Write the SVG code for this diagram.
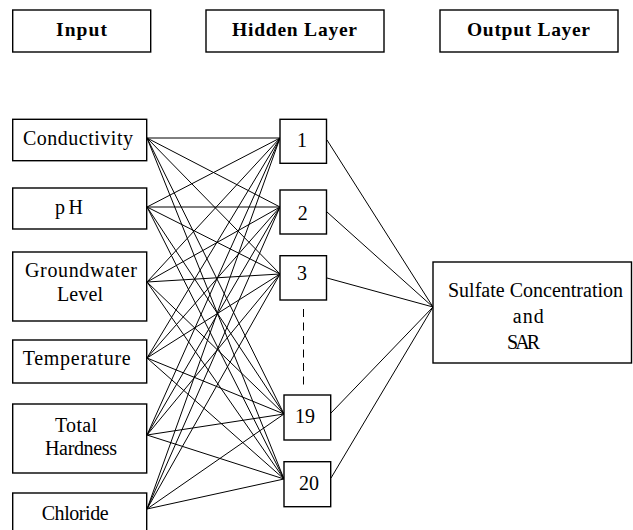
<svg xmlns="http://www.w3.org/2000/svg" width="633" height="530" viewBox="0 0 633 530">
<style>
  .box { fill: #ffffff; stroke: #000000; stroke-width: 1.4; }
  .lbl { font-family: 'Liberation Serif', 'DejaVu Serif', 'Noto Serif', serif; font-size: 20px; fill: #000000; }
  .hdr { font-family: 'Liberation Serif', 'DejaVu Serif', 'Noto Serif', serif; font-size: 19.5px; font-weight: bold; fill: #000000; }
  .num { font-family: 'Liberation Serif', 'DejaVu Serif', 'Noto Serif', serif; font-size: 20px; fill: #000000; text-anchor: middle; }
  .conn line { stroke: #000000; stroke-width: 1; }
</style>
<rect width="633" height="530" fill="#ffffff"/>

<g id="connectors" class="conn">
  <line x1="147" y1="138" x2="280" y2="138"/>
  <line x1="147" y1="138" x2="280" y2="207"/>
  <line x1="147" y1="138" x2="280" y2="274"/>
  <line x1="147" y1="138" x2="284" y2="414"/>
  <line x1="147" y1="138" x2="284" y2="479"/>
  <line x1="147" y1="207" x2="280" y2="138"/>
  <line x1="147" y1="207" x2="280" y2="207"/>
  <line x1="147" y1="207" x2="280" y2="274"/>
  <line x1="147" y1="207" x2="284" y2="414"/>
  <line x1="147" y1="207" x2="284" y2="479"/>
  <line x1="147" y1="282" x2="280" y2="138"/>
  <line x1="147" y1="282" x2="280" y2="207"/>
  <line x1="147" y1="282" x2="280" y2="274"/>
  <line x1="147" y1="282" x2="284" y2="414"/>
  <line x1="147" y1="282" x2="284" y2="479"/>
  <line x1="147" y1="358" x2="280" y2="138"/>
  <line x1="147" y1="358" x2="280" y2="207"/>
  <line x1="147" y1="358" x2="280" y2="274"/>
  <line x1="147" y1="358" x2="284" y2="414"/>
  <line x1="147" y1="358" x2="284" y2="479"/>
  <line x1="147" y1="435" x2="280" y2="138"/>
  <line x1="147" y1="435" x2="280" y2="207"/>
  <line x1="147" y1="435" x2="280" y2="274"/>
  <line x1="147" y1="435" x2="284" y2="414"/>
  <line x1="147" y1="435" x2="284" y2="479"/>
  <line x1="147" y1="509" x2="280" y2="138"/>
  <line x1="147" y1="509" x2="280" y2="207"/>
  <line x1="147" y1="509" x2="280" y2="274"/>
  <line x1="147" y1="509" x2="284" y2="414"/>
  <line x1="147" y1="509" x2="284" y2="479"/>
  <line x1="327" y1="140" x2="433" y2="307"/>
  <line x1="327" y1="212" x2="433" y2="307"/>
  <line x1="327" y1="278" x2="433" y2="307"/>
  <line x1="331" y1="413" x2="433" y2="307"/>
  <line x1="331" y1="478" x2="433" y2="307"/>
  <line x1="303.5" y1="309" x2="303.5" y2="387" stroke-dasharray="8 5.5"/>
</g>

<g id="hdr-input">
  <rect class="box" x="12.7" y="10" width="138" height="42"/>
  <text class="hdr" x="56" y="36" textLength="51">Input</text>
</g>
<g id="hdr-hidden">
  <rect class="box" x="206" y="10" width="178" height="42"/>
  <text class="hdr" x="232" y="36" textLength="125">Hidden Layer</text>
</g>
<g id="hdr-output">
  <rect class="box" x="440" y="10" width="178" height="42"/>
  <text class="hdr" x="467" y="36" textLength="123">Output Layer</text>
</g>

<g id="in-conductivity">
  <rect class="box" x="12.7" y="119.3" width="134" height="41.4"/>
  <text class="lbl" x="23" y="145" textLength="110">Conductivity</text>
</g>
<g id="in-ph">
  <rect class="box" x="12.7" y="188" width="134" height="41"/>
  <text class="lbl" x="55" y="214" textLength="28">pH</text>
</g>
<g id="in-groundwater">
  <rect class="box" x="12.7" y="252" width="134" height="69"/>
  <text class="lbl" x="25" y="277" textLength="112">Groundwater</text>
  <text class="lbl" x="57" y="301" textLength="46">Level</text>
</g>
<g id="in-temperature">
  <rect class="box" x="12.7" y="340" width="134" height="43"/>
  <text class="lbl" x="22.7" y="365" textLength="108">Temperature</text>
</g>
<g id="in-hardness">
  <rect class="box" x="12.7" y="404" width="134" height="69"/>
  <text class="lbl" x="55" y="431.5" textLength="42">Total</text>
  <text class="lbl" x="45" y="455" textLength="72">Hardness</text>
</g>
<g id="in-chloride">
  <rect class="box" x="12.7" y="493" width="134" height="45"/>
  <text class="lbl" x="41.7" y="520" textLength="67">Chloride</text>
</g>

<g id="h1">
  <rect class="box" x="280" y="119.3" width="46.5" height="44"/>
  <text class="num" x="302" y="147">1</text>
</g>
<g id="h2">
  <rect class="box" x="280" y="190" width="46.5" height="44"/>
  <text class="num" x="302.7" y="220">2</text>
</g>
<g id="h3">
  <rect class="box" x="280" y="255.7" width="46.5" height="44.3"/>
  <text class="num" x="302" y="280">3</text>
</g>
<g id="h19">
  <rect class="box" x="284" y="395" width="46.7" height="45"/>
  <text class="num" x="305" y="423">19</text>
</g>
<g id="h20">
  <rect class="box" x="284" y="461.7" width="46.7" height="45"/>
  <text class="num" x="309" y="490">20</text>
</g>

<g id="output">
  <rect class="box" x="433" y="262" width="198.5" height="101"/>
  <text class="lbl" x="448" y="297" textLength="175">Sulfate Concentration</text>
  <text class="lbl" x="512.7" y="323" textLength="31">and</text>
  <text class="lbl" x="507" y="348.5" textLength="33">SAR</text>
</g>
</svg>
